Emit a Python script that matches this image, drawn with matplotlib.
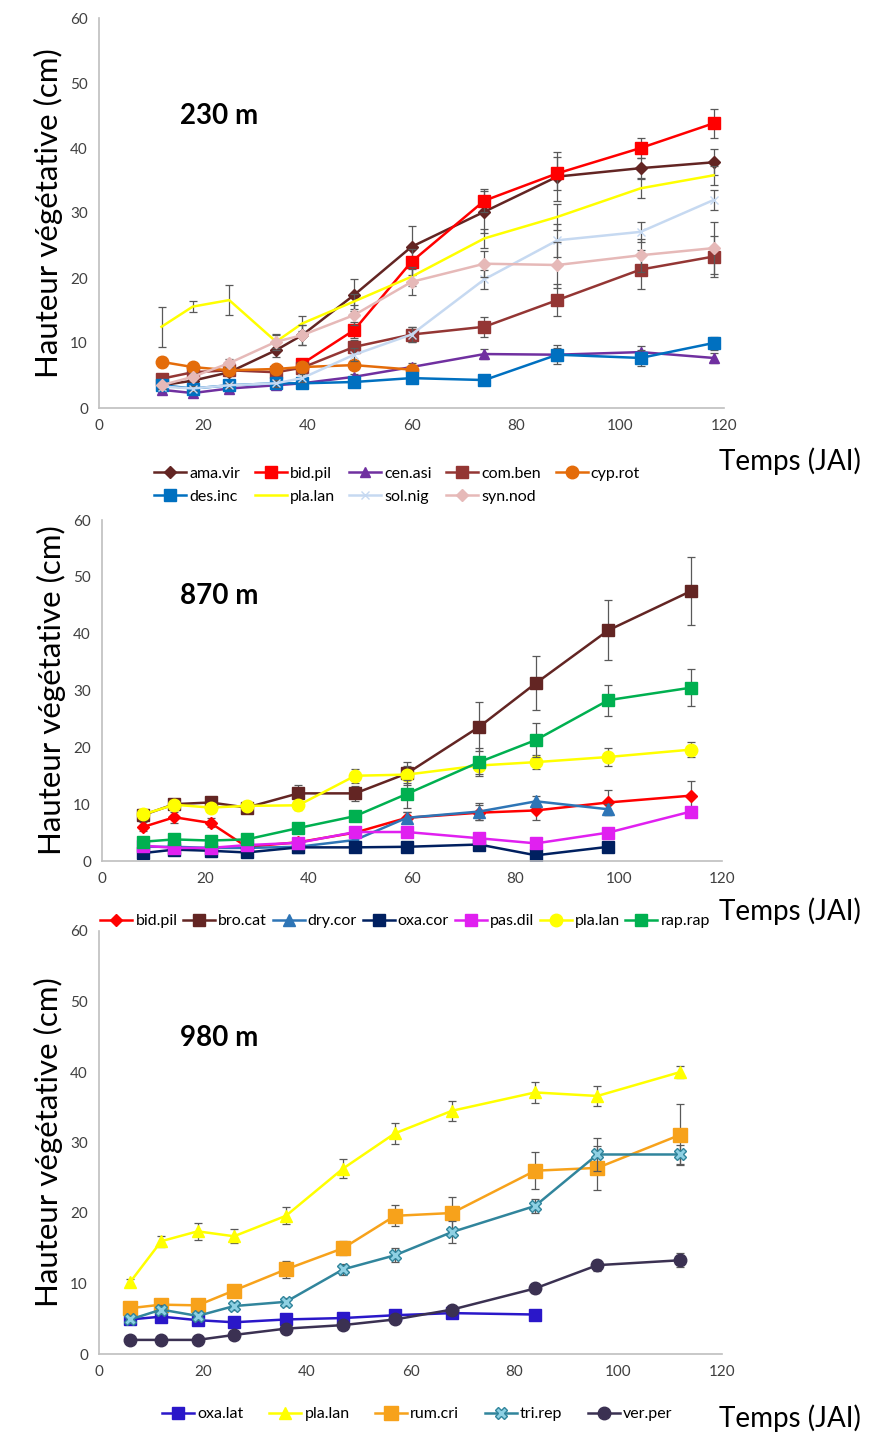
import matplotlib.pyplot as plt
import numpy as np

plt.rcParams['font.family'] = ['Lato', 'DejaVu Sans']

# ---------------- 230 m ----------------
t230 = [12, 18, 25, 34, 39, 49, 60, 74, 88, 104, 118]
ama_vir = [3.5, 4.2, 5.5, 8.9, 11.2, 17.4, 24.8, 30.2, 35.6, 36.9, 37.8]
ama_vir_err = [0.5, 0.5, 0.6, 1.0, 1.5, 2.5, 3.2, 3.2, 3.8, 1.5, 2.0]
bid_pil_230 = [np.nan, np.nan, np.nan, np.nan, 6.8, 12.0, 22.5, 31.9, 36.1, 40.0, 43.8]
bid_pil_230_err = [0, 0, 0, 0, 0.8, 1.2, 2.0, 1.8, 2.5, 1.5, 2.2]
cen_asi = [2.8, 2.3, 3.0, 3.5, 3.8, 4.8, 6.3, 8.3, 8.2, 8.6, 7.7]
cen_asi_err = [0.3, 0.3, 0.3, 0.4, 0.4, 0.5, 0.6, 0.8, 1.0, 1.0, 0.8]
com_ben = [4.5, 5.5, 5.8, 5.5, 6.2, 9.4, 11.3, 12.5, 16.6, 21.3, 23.3]
com_ben_err = [0.5, 0.5, 0.5, 0.5, 0.6, 1.0, 1.2, 1.5, 2.5, 3.0, 3.2]
cyp_rot = [7.1, 6.3, 5.8, 6.0, 6.3, 6.6, 5.9, np.nan, np.nan, np.nan, np.nan]
cyp_rot_err = [0.8, 0.5, 0.5, 0.5, 0.5, 0.6, 0.6, 0, 0, 0, 0]
des_inc = [3.5, 3.0, 3.5, 3.8, 3.8, 4.0, 4.6, 4.3, 8.2, 7.7, 10.0]
des_inc_err = [0.4, 0.4, 0.4, 0.4, 0.4, 0.5, 0.5, 0.6, 1.5, 1.2, 1.0]
pla_lan_230 = [12.5, 15.6, 16.6, 10.2, 13.0, 16.4, 20.2, 26.1, 29.4, 33.8, 35.8]
pla_lan_230_err = [3.1, 0.8, 2.3, 1.2, 1.2, 1.2, 1.5, 1.5, 2.0, 1.5, 1.5]
sol_nig = [3.3, 3.0, 3.5, 3.8, 4.6, 8.2, 11.3, 19.8, 25.8, 27.1, 32.0]
sol_nig_err = [0.4, 0.4, 0.4, 0.5, 0.6, 1.0, 1.2, 1.5, 2.5, 1.5, 1.5]
syn_nod = [3.5, 4.8, 6.9, 10.2, 11.2, 14.3, 19.4, 22.2, 22.0, 23.5, 24.6]
syn_nod_err = [0.5, 0.6, 0.6, 1.0, 1.5, 1.5, 2.0, 2.0, 3.5, 2.5, 4.0]

# ---------------- 870 m ----------------
t870 = [8, 14, 21, 28, 38, 49, 59, 73, 84, 98, 114]
bid_pil_870 = [6.0, 7.7, 6.7, 2.5, 3.3, 5.0, 7.6, 8.5, 8.9, 10.3, 11.5]
bid_pil_870_err = [0.8, 1.0, 0.8, 0.5, 0.5, 0.8, 1.0, 1.3, 1.6, 2.2, 2.6]
bro_cat = [8.1, 10.0, 10.3, 9.4, 11.9, 11.9, 15.4, 23.6, 31.3, 40.6, 47.5]
bro_cat_err = [0.8, 0.8, 1.0, 0.8, 1.5, 1.3, 2.0, 4.3, 4.8, 5.3, 6.0]
dry_cor = [2.5, 2.5, 2.3, 2.3, 2.5, 3.7, 7.6, 8.7, 10.5, 9.1, np.nan]
dry_cor_err = [0.3, 0.3, 0.3, 0.3, 0.4, 0.6, 1.0, 1.5, 1.0, 1.0, 0]
oxa_cor = [1.4, 2.0, 1.8, 1.5, 2.4, 2.4, 2.5, 2.9, 1.0, 2.5, np.nan]
oxa_cor_err = [0.2, 0.2, 0.2, 0.2, 0.3, 0.3, 0.3, 0.4, 0.3, 0.3, 0]
pas_dil = [2.7, 2.3, 2.3, 2.8, 3.2, 5.1, 5.1, 4.0, 3.1, 5.0, 8.7]
pas_dil_err = [0.3, 0.3, 0.3, 0.3, 0.4, 0.6, 0.6, 0.5, 0.5, 0.6, 0.8]
pla_lan_870 = [8.2, 9.9, 9.4, 9.7, 9.8, 15.0, 15.2, 16.8, 17.4, 18.3, 19.6]
pla_lan_870_err = [0.8, 0.8, 0.8, 0.8, 0.8, 1.2, 1.5, 1.5, 1.2, 1.5, 1.3]
rap_rap = [3.4, 3.8, 3.6, 3.8, 5.8, 7.9, 11.8, 17.4, 21.3, 28.3, 30.5]
rap_rap_err = [0.5, 0.5, 0.5, 0.5, 0.6, 0.8, 2.5, 2.5, 3.0, 2.7, 3.3]

# ---------------- 980 m ----------------
t980 = [6, 12, 19, 26, 36, 47, 57, 68, 84, 96, 112]
oxa_lat = [4.9, 5.3, 4.8, 4.5, 4.9, 5.1, 5.5, 5.8, 5.6, np.nan, np.nan]
oxa_lat_err = [0.3, 0.3, 0.3, 0.3, 0.3, 0.3, 0.3, 0.3, 0.3, 0, 0]
pla_lan_980 = [10.2, 16.0, 17.4, 16.7, 19.6, 26.3, 31.3, 34.5, 37.1, 36.6, 40.0]
pla_lan_980_err = [0.5, 0.8, 1.2, 1.0, 1.2, 1.4, 1.5, 1.4, 1.5, 1.4, 0.9]
rum_cri = [6.5, 7.0, 6.9, 9.0, 12.0, 15.0, 19.6, 20.0, 26.0, 26.4, 31.1]
rum_cri_err = [0.5, 0.5, 0.5, 0.6, 1.2, 1.0, 1.5, 2.3, 2.6, 3.1, 4.3]
tri_rep = [4.9, 6.3, 5.4, 6.8, 7.4, 12.0, 14.0, 17.3, 21.0, 28.3, 28.3]
tri_rep_err = [0.5, 0.6, 0.6, 0.6, 0.6, 0.8, 1.0, 1.5, 1.0, 2.3, 1.3]
ver_per = [2.0, 2.0, 2.0, 2.7, 3.6, 4.1, 4.9, 6.3, 9.3, 12.6, 13.3]
ver_per_err = [0.2, 0.2, 0.2, 0.3, 0.3, 0.3, 0.4, 0.5, 0.6, 0.8, 1.0]

fig = plt.figure(figsize=(8.71, 14.34), dpi=100)
W, H = 871, 1434


def make_ax(x0, x1, y0, y1):
    ax = fig.add_axes([x0 / W, 1 - y1 / H, (x1 - x0) / W, (y1 - y0) / H])
    ax.set_xlim(0, 120)
    ax.set_ylim(0, 60)
    ax.set_xticks(range(0, 121, 20))
    ax.set_yticks(range(0, 61, 10))
    for s in ['top', 'right']:
        ax.spines[s].set_visible(False)
    for s in ['left', 'bottom']:
        ax.spines[s].set_color('#BFBFBF')
        ax.spines[s].set_linewidth(1.2)
    ax.tick_params(length=0, labelsize=11, colors='#404040', pad=8)
    ax.set_ylabel('Hauteur végétative (cm)', fontsize=22.5, labelpad=5)
    ax.patch.set_alpha(0)
    return ax


def series(ax, t, y, e, label, color, marker, ms=8, mfc=None, lw=1.8):
    y = np.array(y, dtype=float)
    ax.errorbar(t, y, yerr=e, fmt='none', ecolor='#595959', elinewidth=0.9,
                capsize=3, capthick=0.9)
    line, = ax.plot(t, y, color=color, marker=marker, markersize=ms,
                    markerfacecolor=mfc or color, markeredgecolor=color,
                    linewidth=lw, label=label)
    return line


leg_kw = dict(frameon=False, fontsize=11.5, handlelength=2.0,
              handletextpad=0.2)

# top panel
ax1 = make_ax(99, 724, 18, 408)
h1 = [
    series(ax1, t230, ama_vir, ama_vir_err, 'ama.vir', '#632523', 'D', 6),
    series(ax1, t230, bid_pil_230, bid_pil_230_err, 'bid.pil', '#FF0000', 's', 9),
    series(ax1, t230, cen_asi, cen_asi_err, 'cen.asi', '#7030A0', '^', 7),
    series(ax1, t230, com_ben, com_ben_err, 'com.ben', '#943634', 's', 9),
    series(ax1, t230, cyp_rot, cyp_rot_err, 'cyp.rot', '#E46C0A', 'o', 9),
    series(ax1, t230, des_inc, des_inc_err, 'des.inc', '#0070C0', 's', 9),
    series(ax1, t230, pla_lan_230, pla_lan_230_err, 'pla.lan', '#FFFF00', None),
    series(ax1, t230, sol_nig, sol_nig_err, 'sol.nig', '#C6D9F1', 'x', 6),
    series(ax1, t230, syn_nod, syn_nod_err, 'syn.nod', '#E6B9B8', 'D', 6),
]
order = [0, 5, 1, 6, 2, 7, 3, 8, 4]
fig.legend([h1[i] for i in order], [h1[i].get_label() for i in order],
           loc='upper left', bbox_to_anchor=(140 / W, 1 - 452 / H), ncol=5,
           columnspacing=0.9, labelspacing=0.55, **leg_kw)
fig.text(180 / W, 1 - 116 / H, '230 m', fontsize=20, fontweight='bold', va='center')
fig.text(719 / W, 1 - 461 / H, 'Temps (JAI)', fontsize=20, va='center')

# middle panel
ax2 = make_ax(102, 722, 520, 861)
series(ax2, t870, bid_pil_870, bid_pil_870_err, 'bid.pil', '#FF0000', 'D', 6)
series(ax2, t870, bro_cat, bro_cat_err, 'bro.cat', '#632523', 's', 9)
series(ax2, t870, dry_cor, dry_cor_err, 'dry.cor', '#2E75B6', '^', 8)
series(ax2, t870, oxa_cor, oxa_cor_err, 'oxa.cor', '#002060', 's', 9)
series(ax2, t870, pas_dil, pas_dil_err, 'pas.dil', '#E020F0', 's', 9)
series(ax2, t870, pla_lan_870, pla_lan_870_err, 'pla.lan', '#FFFF00', 'o', 9)
series(ax2, t870, rap_rap, rap_rap_err, 'rap.rap', '#00B050', 's', 9)
fig.text(180 / W, 1 - 596 / H, '870 m', fontsize=20, fontweight='bold', va='center')
fig.legend(*ax2.get_legend_handles_labels(), loc='center left',
           bbox_to_anchor=(86 / W, 1 - 921 / H), ncol=7,
           columnspacing=0.35, **leg_kw)
fig.text(719 / W, 1 - 911 / H, 'Temps (JAI)', fontsize=20, va='center')

# bottom panel
ax3 = make_ax(99, 722, 931, 1354)
series(ax3, t980, oxa_lat, oxa_lat_err, 'oxa.lat', '#2A17C9', 's', 9)
series(ax3, t980, pla_lan_980, pla_lan_980_err, 'pla.lan', '#FFFF00', '^', 9)
series(ax3, t980, rum_cri, rum_cri_err, 'rum.cri', '#F7A21B', 's', 10)
series(ax3, t980, tri_rep, tri_rep_err, 'tri.rep', '#31859C', 'X', 9, mfc='#8ED0E3')
series(ax3, t980, ver_per, ver_per_err, 'ver.per', '#3B3152', 'o', 9)
fig.text(180 / W, 1 - 1038 / H, '980 m', fontsize=20, fontweight='bold', va='center')
fig.legend(*ax3.get_legend_handles_labels(), loc='center left',
           bbox_to_anchor=(148 / W, 1 - 1414 / H), ncol=5,
           columnspacing=1.6, **leg_kw)
fig.text(719 / W, 1 - 1418 / H, 'Temps (JAI)', fontsize=20, va='center')

fig.savefig('out.png', dpi=100)
